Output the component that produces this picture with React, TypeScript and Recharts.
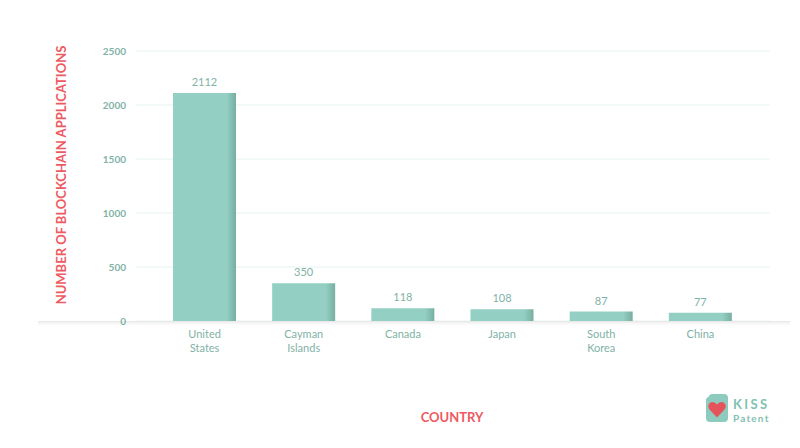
import React from 'react';
import { BarChart, Bar, XAxis, YAxis, CartesianGrid, LabelList, Customized } from 'recharts';

const countries = ['United\nStates', 'Cayman\nIslands', 'Canada', 'Japan', 'South\nKorea', 'China'];
const applications = [2112, 350, 118, 108, 87, 77];
const yTicks = [0, 500, 1000, 1500, 2000, 2500];

const data = countries.map((c, i) => ({ country: c, value: applications[i] }));

const TEAL_TEXT = '#7fb2a6';
const RED = '#ee5a62';
const FONT = 'Lato, "Noto Sans", sans-serif';

const XTick = (props: any) => {
  const { x, y, payload } = props;
  const lines = String(payload.value).split('\n');
  return (
    <g transform={`translate(${x},${y})`}>
      {lines.map((l, i) => (
        <text key={i} x={0} y={0} dy={9 + i * 14} textAnchor="middle" fill={TEAL_TEXT} fontSize={11} fontFamily={FONT}>
          {l}
        </text>
      ))}
    </g>
  );
};

const Decor = (props: any) => {
  const off = props.offset || {};
  const baseY = (off.top ?? 51) + (off.height ?? 270);
  return (
    <g>
      <defs>
        <linearGradient id="baseShadow" x1="0" y1="0" x2="0" y2="1">
          <stop offset="0%" stopColor="#e6e6e6" />
          <stop offset="100%" stopColor="#ffffff" stopOpacity={0} />
        </linearGradient>
      </defs>
      <rect x={38} y={baseY} width={752} height={6} fill="url(#baseShadow)" />
      <text
        transform={`translate(66,175) rotate(-90)`}
        textAnchor="middle"
        fill={RED}
        fontSize={13}
        fontWeight={700}
        fontFamily={FONT}
      >
        NUMBER OF BLOCKCHAIN APPLICATIONS
      </text>
      <text x={452} y={422} textAnchor="middle" fill={RED} fontSize={13} fontWeight={700} fontFamily={FONT}>
        COUNTRY
      </text>
      <g>
        <path d="M711,394 L724,394 Q728,394 728,398 L728,418 Q728,422 724,422 L710,422 Q706,422 706,418 L706,399 Z" fill="#8ccbbd" />
        <path d="M717,417.5 L709.5,409.5 Q707,406 709.5,403.2 Q713,400.5 717,404.5 Q721,400.5 724.5,403.2 Q727,406 724.5,409.5 Z" fill="#e5545b" />
        <text x={733} y={409} fill="#7fc1b2" fontSize={13} fontWeight={700} fontFamily={FONT} letterSpacing={2.4}>KISS</text>
        <text x={733} y={422} fill="#7fc1b2" fontSize={10} fontWeight={700} fontFamily={FONT} letterSpacing={1.2}>Patent</text>
      </g>
    </g>
  );
};

export default function App() {
  return (
    <div style={{ position: 'absolute', left: 0, top: 0, width: 800, height: 448, background: '#fff' }}>
      <BarChart
        width={800}
        height={448}
        data={data}
        margin={{ top: 51, right: 30, bottom: 97, left: 0 }}
      >
        <defs>
          <linearGradient id="barFill" x1="0" y1="0" x2="1" y2="0">
            <stop offset="0%" stopColor="#93cfc2" />
            <stop offset="85%" stopColor="#93cfc2" />
            <stop offset="100%" stopColor="#77aea2" />
          </linearGradient>
        </defs>
        <CartesianGrid vertical={false} stroke="#e4f3ef" strokeWidth={1} />
        <XAxis
          dataKey="country"
          axisLine={false}
          tickLine={false}
          interval={0}
          tick={<XTick />}
          padding={{ left: 19, right: 20 }}
          height={30}
        />
        <YAxis
          width={136}
          domain={[0, 2500]}
          ticks={yTicks}
          axisLine={false}
          tickLine={false}
          tickMargin={4}
          tick={{ fill: TEAL_TEXT, fontSize: 10, fontWeight: 700, fontFamily: FONT }}
        />
        <Bar dataKey="value" fill="url(#barFill)" barSize={63} isAnimationActive={false}>
          <LabelList dataKey="value" position="top" offset={7} fill={TEAL_TEXT} fontSize={11} fontFamily={FONT} />
        </Bar>
        <Customized component={Decor} />
      </BarChart>
    </div>
  );
}
